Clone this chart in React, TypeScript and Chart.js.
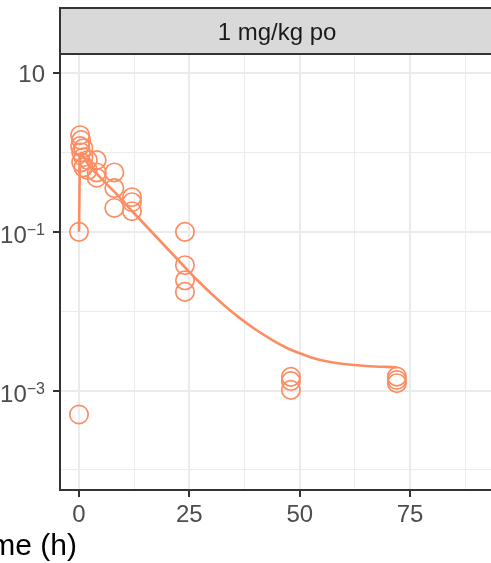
import React, { useEffect, useRef } from "react";
import { Chart, registerables } from "chart.js";

Chart.register(...registerables);

// ---- data ----
const panelTitle = "1 mg/kg po";
const xAxisTitle = "Time (h)";

const lineTimes = [0, 0.25, 0.5, 1, 2, 4, 8, 12, 24, 27, 30, 33, 36.5, 40, 44, 47, 50, 53, 56, 60, 65, 72];
const lineConc = [0.1, 0.85, 1.0, 0.9, 0.72, 0.54, 0.32, 0.183, 0.0358, 0.024, 0.0166, 0.01175, 0.00813, 0.00589, 0.00427, 0.00347, 0.00295, 0.00257, 0.00234, 0.00216, 0.00204, 0.00197];

const obsTimes = [0, 0, 0.25, 0.25, 0.5, 0.5, 0.5, 1, 1, 1, 2, 2, 4, 4, 4, 8, 8, 8, 12, 12, 12, 24, 24, 24, 24, 48, 48, 48, 72, 72, 72];
const obsConc = [0.1, 0.0005, 1.65, 1.2, 1.43, 1.0, 0.75, 1.13, 0.87, 0.65, 0.8, 0.6, 0.8, 0.56, 0.48, 0.56, 0.355, 0.2, 0.273, 0.236, 0.182, 0.1, 0.038, 0.0245, 0.0175, 0.00149, 0.00132, 0.00102, 0.0015, 0.00136, 0.00124];

const xTickValues = [0, 12.5, 25, 37.5, 50, 62.5, 75, 87.5];
const xMajorTicks = [0, 25, 50, 75];
const xLabels = ["0", "25", "50", "75"];
const yTickValues = [1e-4, 1e-3, 1e-2, 1e-1, 1, 10];
const yMajorTicks = [1e-3, 1e-1, 10];
const yLabelBase = ["10", "10", "10"];
const yLabelExp = ["\u22123", "\u22121", ""];

const X_MIN = -4.3;
const X_MAX = 94;
const Y_MIN = Math.pow(10, -4.252);
const Y_MAX = Math.pow(10, 1.24);

const COLOR = "#FC8D62";
const FONT = "'Liberation Sans', Arial, Helvetica, sans-serif";

const isMajor = (v: number, arr: number[]) => arr.some((m) => Math.abs(m - v) / Math.max(Math.abs(m), 1e-12) < 1e-6);

export default function App() {
  const ref = useRef<HTMLCanvasElement | null>(null);

  useEffect(() => {
    if (!ref.current) return;
    const decor = {
      id: "decor",
      afterDraw(chart: any) {
        const ctx = chart.ctx as CanvasRenderingContext2D;
        const area = chart.chartArea;
        const xs = chart.scales.x;
        const ys = chart.scales.y;
        ctx.save();
        // strip
        const stripTop = 8;
        const stripBottom = area.top;
        ctx.fillStyle = "#D9D9D9";
        ctx.fillRect(area.left, stripTop, area.right - area.left + 10, stripBottom - stripTop);
        ctx.strokeStyle = "#333333";
        ctx.lineWidth = 2;
        ctx.strokeRect(area.left, stripTop, area.right - area.left + 10, stripBottom - stripTop);
        ctx.fillStyle = "#1A1A1A";
        ctx.font = `24px ${FONT}`;
        ctx.textAlign = "center";
        ctx.textBaseline = "alphabetic";
        ctx.fillText(panelTitle, (area.left + area.right) / 2, 40);

        // x labels
        ctx.fillStyle = "#4D4D4D";
        ctx.font = `24px ${FONT}`;
        ctx.textAlign = "center";
        xMajorTicks.forEach((v, i) => {
          ctx.fillText(xLabels[i], xs.getPixelForValue(v), 522);
        });

        // y labels
        const rightEdge = 45;
        yMajorTicks.forEach((v, i) => {
          const py = ys.getPixelForValue(v);
          const exp = yLabelExp[i];
          ctx.textAlign = "right";
          if (exp) {
            ctx.font = `16px ${FONT}`;
            const w = ctx.measureText(exp).width;
            ctx.fillText(exp, rightEdge, py + 3);
            ctx.font = `24px ${FONT}`;
            ctx.fillText(yLabelBase[i], rightEdge - w, py + 11);
          } else {
            ctx.font = `24px ${FONT}`;
            ctx.fillText(yLabelBase[i], rightEdge, py + 9);
          }
        });

        // axis title
        ctx.fillStyle = "#000000";
        ctx.font = `30px ${FONT}`;
        ctx.textAlign = "right";
        ctx.fillText(xAxisTitle, 77, 555);
        ctx.restore();
      },
    };

    const chart = new Chart(ref.current, {
      type: "scatter",
      data: {
        datasets: [
          {
            label: "pred",
            data: lineTimes.map((t, i) => ({ x: t, y: lineConc[i] })),
            showLine: true,
            borderColor: COLOR,
            borderWidth: 2.6,
            pointRadius: 0,
            fill: false,
            cubicInterpolationMode: "monotone",
          },
          {
            label: "obs",
            data: obsTimes.map((t, i) => ({ x: t, y: obsConc[i] })),
            showLine: false,
            borderColor: COLOR,
            backgroundColor: "rgba(0,0,0,0)",
            pointRadius: 9.2,
            pointBorderWidth: 1.7,
            pointStyle: "circle",
          },
        ],
      },
      options: {
        responsive: false,
        animation: false,
        devicePixelRatio: 1,
        layout: { autoPadding: false, padding: { left: 53, right: 2, top: 54, bottom: 66 } },
        plugins: { legend: { display: false }, tooltip: { enabled: false }, title: { display: false } },
        scales: {
          x: {
            type: "linear",
            min: X_MIN,
            max: X_MAX,
            afterBuildTicks: (scale: any) => {
              scale.ticks = xTickValues.map((v) => ({ value: v }));
            },
            ticks: { display: false },
            grid: {
              color: "#EBEBEB",
              lineWidth: (c: any) => (isMajor(c.tick?.value, xMajorTicks) ? 2 : 1),
              tickColor: (c: any) => (isMajor(c.tick?.value, xMajorTicks) ? "#333333" : "rgba(0,0,0,0)"),
              tickWidth: 2,
              tickLength: 7,
              drawTicks: true,
            },
            border: { display: true, color: "#333333", width: 2 },
          },
          y: {
            type: "logarithmic",
            min: Y_MIN,
            max: Y_MAX,
            afterBuildTicks: (scale: any) => {
              scale.ticks = yTickValues.map((v) => ({ value: v }));
            },
            ticks: { display: false },
            grid: {
              color: "#EBEBEB",
              lineWidth: (c: any) => (isMajor(c.tick?.value, yMajorTicks) ? 2 : 1),
              tickColor: (c: any) => (isMajor(c.tick?.value, yMajorTicks) ? "#333333" : "rgba(0,0,0,0)"),
              tickWidth: 2,
              tickLength: 7,
              drawTicks: true,
            },
            border: { display: true, color: "#333333", width: 2 },
          },
        },
      },
      plugins: [decor],
    } as any);
    return () => chart.destroy();
  }, []);

  return (
    <div style={{ position: "fixed", left: 0, top: 0, width: 491, height: 563, overflow: "hidden", background: "#ffffff" }}>
      <canvas ref={ref} width={496} height={563} style={{ display: "block", width: 496, height: 563 }} />
    </div>
  );
}
